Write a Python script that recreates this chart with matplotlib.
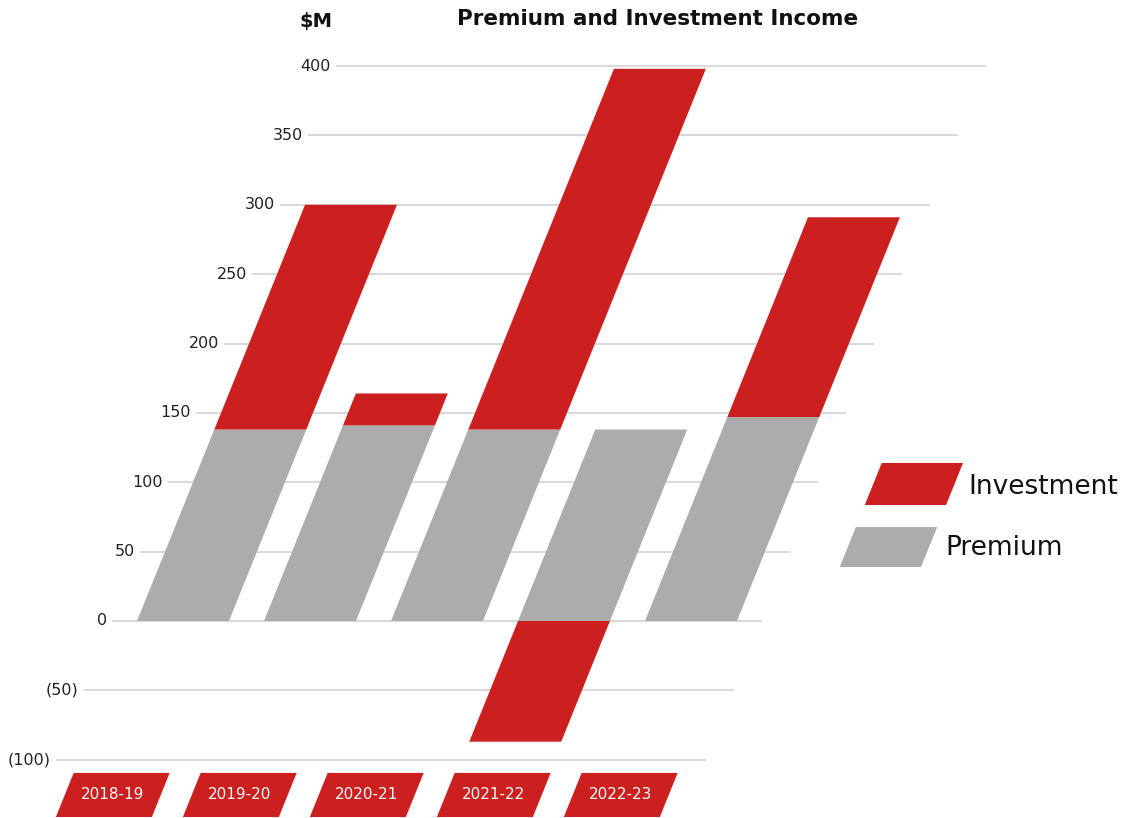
import matplotlib
matplotlib.use("Agg")
import matplotlib.pyplot as plt
import matplotlib.transforms as mtransforms
import numpy as np

# ---------------------------
# data
# ---------------------------
years = ['2018-19', '2019-20', '2020-21', '2021-22', '2022-23']
premium = np.array([138, 141, 138, 138, 147])
investment = np.array([162, 23, 260, -87, 144])

ticks = [-100, -50, 0, 50, 100, 150, 200, 250, 300, 350, 400]
tick_labels = ['(100)', '(50)', '0', '50', '100', '150', '200', '250', '300', '350', '400']

RED = '#CC1F1F'
GREY = '#ABACAB'
GRID = '#D9D9D9'

plt.rcParams['font.family'] = ['DejaVu Sans']

fig = plt.figure(figsize=(11.31, 8.18), dpi=100)
ax = fig.add_axes([0, 0, 1, 1])
ax.set_xlim(-1.441, 7.465)
ax.set_ylim(-142.0, 447.6)
ax.axis('off')

# shear: x shifts to the right as y goes up
k = 0.00441
skew = mtransforms.Affine2D.from_values(1, 0, k, 1, 0, 0) + ax.transData

x = np.arange(len(years))

# gridlines + tick labels
ax.hlines(ticks, -0.56, 4.56, color=GRID, lw=1.5, zorder=1, transform=skew)
for t, lab in zip(ticks, tick_labels):
    ax.text(-0.6, t, lab, ha='right', va='center', fontsize=11.5,
            color='#222222', transform=skew)

# bars
bw = 0.724
b1 = ax.bar(x, premium, width=bw, color=GREY, zorder=2)
inv_bottom = np.where(investment >= 0, premium, 0)
b2 = ax.bar(x, investment, bottom=inv_bottom, width=bw, color=RED, zorder=2)
for p in list(b1) + list(b2):
    p.set_transform(skew)

# category boxes along the bottom
cb = ax.bar(x, -31.8, bottom=-109.5, width=0.756, color=RED, zorder=2)
for p in cb:
    p.set_transform(skew)
for xi, lab in zip(x, years):
    ax.text(xi, -125.4, lab, ha='center', va='center', color='white',
            fontsize=11, transform=skew)

# legend
lg = ax.bar([5.32, 5.32], [-30.3, -28.8], bottom=[113.9, 67.7], width=0.64,
            color=[RED, GREY], zorder=2)
for p in lg:
    p.set_transform(skew)
ax.text(5.755, 96.6, 'Investment', ha='left', va='center',
        fontsize=19, color='#111111', transform=skew)
ax.text(5.77, 52.6, 'Premium', ha='left', va='center',
        fontsize=19, color='#111111', transform=skew)

# titles
fig.text(658 / 1131, 1 - 19 / 818, 'Premium and Investment Income', ha='center',
         va='center', fontsize=15.5, fontweight='bold', color='#111111')
fig.text(316 / 1131, 1 - 22 / 818, '$M', ha='center', va='center',
         fontsize=14, fontweight='bold', color='#111111')

fig.savefig('out.png', dpi=100)
